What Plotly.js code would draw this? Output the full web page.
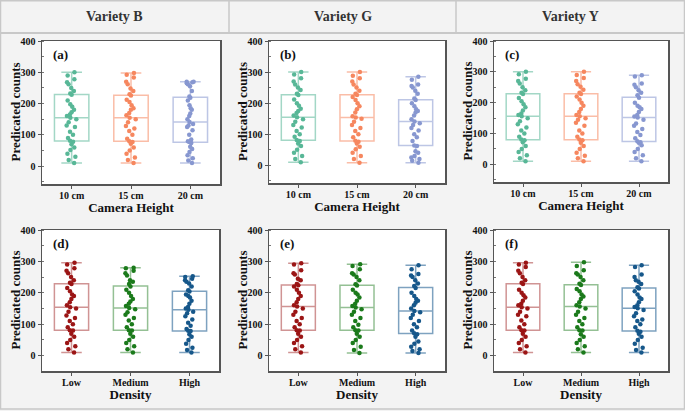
<!DOCTYPE html>
<html><head><meta charset="utf-8">
<script src="https://cdn.plot.ly/plotly-3.0.1.min.js"></script>
<style>html,body{margin:0;padding:0;background:#f3f3f3;}#chart{width:685px;height:411px;}</style>
</head><body><div id="chart"></div>
<script>
// ---------- data ----------
const varieties = ['Variety B', 'Variety G', 'Variety Y'];
const heightCats = ['10 cm', '15 cm', '20 cm'];
const densityCats = ['Low', 'Medium', 'High'];
const panelLabels = ['(a)', '(b)', '(c)', '(d)', '(e)', '(f)'];
const yTickVals = [0, 100, 200, 300, 400];
const yTitle = 'Predicated counts';

// Variety B, camera height
const b_h10 = [10,20,30,40,52,60,70,78,81,90,100,110,125,130,140,150,155,160,165,172,180,190,198,210,228,232,240,250,262,268,278,290,300];
const b_h15 = [10,20,28,40,50,60,72,77,80,88,100,112,120,128,140,150,155,163,170,180,185,195,205,212,226,230,240,248,262,270,283,292,298];
const b_h20 = [10,18,25,35,45,55,62,74,77,80,85,100,115,125,130,135,141,150,160,168,180,185,195,210,219,223,240,255,262,265,268,270,270];
// Variety G, camera height
const g_h10 = [10,20,30,40,50,62,70,78,81,92,100,110,122,130,140,148,155,160,168,175,182,192,200,212,226,230,242,250,260,270,280,292,300];
const g_h15 = [8,20,30,40,52,60,70,76,79,90,100,110,120,130,140,150,154,158,170,180,190,200,210,220,226,230,240,250,260,270,280,288,300];
const g_h20 = [8,15,20,25,30,40,45,62,64,78,90,100,112,120,130,135,141,148,160,170,175,180,190,200,210,215,230,240,250,255,260,275,285];
// Variety Y, camera height
const y_h10 = [10,20,30,40,50,60,72,78,81,90,100,110,120,130,140,150,156,160,165,175,185,195,205,215,228,232,240,250,262,270,278,292,300];
const y_h15 = [10,20,28,38,50,60,70,78,81,90,100,110,125,135,145,150,156,160,170,180,190,200,210,220,228,232,242,252,260,270,280,290,300];
const y_h20 = [10,20,30,40,50,62,70,72,75,85,95,105,115,125,133,145,152,155,160,170,180,185,190,200,216,224,232,240,250,258,262,285,289];
// Variety B, density
const b_low = [10,20,30,40,50,60,70,80,81,90,100,110,120,128,140,150,154,160,170,180,190,195,205,215,228,232,240,250,262,270,278,290,296];
const b_med = [10,20,30,40,50,60,70,80,81,90,100,112,120,130,138,148,152,158,165,172,180,190,200,210,220,228,235,240,255,262,270,278,280];
const b_high = [10,18,25,38,50,60,68,78,79,85,95,105,115,125,135,140,146,150,155,165,175,185,190,195,204,208,220,230,235,240,245,250,253];
// Variety G, density
const g_low = [10,20,30,40,50,60,70,80,81,90,100,110,120,130,140,150,156,160,170,180,190,200,210,220,224,228,240,245,258,262,272,290,294];
const g_med = [8,18,28,40,50,60,70,80,81,90,98,110,120,130,140,148,153,158,165,175,185,195,200,210,223,227,240,250,258,262,275,285,291];
const g_high = [8,15,20,28,38,45,60,68,71,80,90,100,110,120,130,138,142,150,160,168,175,180,190,200,215,222,230,240,250,255,260,275,288];
// Variety Y, density
const y_low = [10,20,30,40,50,60,70,80,81,90,100,112,125,130,140,150,154,160,165,175,185,192,200,210,228,232,240,250,262,270,282,290,296];
const y_med = [10,20,30,40,50,60,68,80,81,90,100,110,120,130,140,150,156,160,170,180,188,195,205,212,225,229,240,250,258,262,272,285,297];
const y_high = [10,18,25,38,50,60,70,76,79,90,100,110,115,125,135,145,151,155,160,170,180,185,195,205,214,218,228,235,240,250,258,282,288];

const panelData = [
  [b_h10, b_h15, b_h20], [g_h10, g_h15, g_h20], [y_h10, y_h15, y_h20],
  [b_low, b_med, b_high], [g_low, g_med, g_high], [y_low, y_med, y_high]
];

// ---------- styling ----------
const W = 685, H = 411;
const serif = 'Times New Roman, Liberation Serif, serif';
const heightPts = ['#58b797', '#f6875f', '#8797d0'];
const heightLines = ['rgba(88,183,151,0.55)', 'rgba(246,135,95,0.55)', 'rgba(135,151,208,0.55)'];
const densityPts = ['#9b1515', '#1b7a1b', '#16578a'];
const densityLines = ['rgba(170,60,60,0.55)', 'rgba(60,140,60,0.55)', 'rgba(40,100,150,0.6)'];
// plot area boxes in pixels [left, right, top, bottom]
const boxes = [[42,220,41,184],[269,445,41,183],[494,668,41,182],[42,219,230,371],[269,445,230,371],[494,668,230,371]];

const traces = [];
const layout = {
  width: W, height: H,
  margin: {l: 0, r: 0, t: 0, b: 0},
  paper_bgcolor: '#f3f3f3', plot_bgcolor: '#ffffff',
  showlegend: false,
  font: {family: serif, color: '#000'},
  shapes: [], annotations: []
};

for (let p = 0; p < 6; p++) {
  const top = p < 3;
  const cats = top ? heightCats : densityCats;
  const pts = top ? heightPts : densityPts;
  const lines = top ? heightLines : densityLines;
  const sx = p === 0 ? '' : String(p + 1);
  for (let c = 0; c < 3; c++) {
    traces.push({
      type: 'box', y: panelData[p][c], x0: cats[c], name: cats[c],
      xaxis: 'x' + sx, yaxis: 'y' + sx,
      boxpoints: 'all', jitter: 0.32, pointpos: 0,
      width: 0.58, whiskerwidth: 0.6,
      fillcolor: 'rgba(255,255,255,0)',
      line: {color: lines[c], width: 1.5},
      marker: {color: pts[c], size: 4.5, line: {width: 0}},
      hoverinfo: 'y'
    });
  }
  const [l, r, t, b] = boxes[p];
  layout['xaxis' + sx] = {
    domain: [l / W, r / W], anchor: 'y' + sx,
    type: 'category', categoryorder: 'array', categoryarray: cats,
    range: [-0.5, 2.5],
    showline: true, mirror: true, linecolor: '#555', linewidth: 1.5,
    ticks: 'outside', ticklen: 3, tickcolor: '#555', tickwidth: 1,
    ticklabelstandoff: -2,
    tickfont: {family: serif, size: 10, weight: 'bold', color: '#111'},
    showgrid: false, zeroline: false, automargin: false,
    title: {text: top ? 'Camera Height' : 'Density', standoff: 0,
            font: {family: serif, size: 13, weight: 'bold', color: '#111'}}
  };
  layout['yaxis' + sx] = {
    domain: [1 - b / H, 1 - t / H], anchor: 'x' + sx,
    range: top ? [-57, 400] : [-49, 400],
    tickvals: yTickVals,
    showline: true, mirror: true, linecolor: '#555', linewidth: 1.5,
    ticks: 'outside', ticklen: 3, tickcolor: '#555', tickwidth: 1,
    minor: {dtick: 50, ticks: 'inside', ticklen: 2, tickcolor: '#777', showgrid: false},
    tickfont: {family: serif, size: 10, weight: 'bold', color: '#111'},
    showgrid: false, zeroline: false, automargin: false
  };
  // y-axis title placed next to the tick labels
  layout.annotations.push({
    text: yTitle, xref: 'paper', yref: 'paper', textangle: -90,
    x: (l - 27) / W, y: 1 - ((t + b) / 2) / H, xanchor: 'center', yanchor: 'middle',
    showarrow: false, font: {family: serif, size: 13, weight: 'bold', color: '#111'}
  });
  layout.annotations.push({
    text: panelLabels[p], xref: 'paper', yref: 'paper',
    x: (l + 9) / W, y: 1 - (t + 13) / H, xanchor: 'left', yanchor: 'middle',
    showarrow: false, font: {family: serif, size: 13, weight: 'bold', color: '#111'}
  });
}

// header row
const headerLine = 'rgba(200,200,200,1)';
layout.shapes.push({type: 'rect', xref: 'paper', yref: 'paper', x0: 0.5 / W, x1: 684.5 / W, y0: 1 - 409 / H, y1: 1 - 0.8 / H, line: {color: headerLine, width: 1.5}, fillcolor: 'rgba(0,0,0,0)', layer: 'below'});
layout.shapes.push({type: 'line', xref: 'paper', yref: 'paper', x0: 0, x1: 1, y0: 1 - 33 / H, y1: 1 - 33 / H, line: {color: headerLine, width: 2}});
[229, 456].forEach(px => layout.shapes.push({type: 'line', xref: 'paper', yref: 'paper', x0: px / W, x1: px / W, y0: 1 - 33 / H, y1: 1, line: {color: headerLine, width: 1.5}}));
const headerCenters = [114.5, 342.5, 570.5];
varieties.forEach((v, i) => layout.annotations.push({
  text: v, xref: 'paper', yref: 'paper', x: headerCenters[i] / W, y: 1 - 17 / H,
  xanchor: 'center', yanchor: 'middle', showarrow: false,
  font: {family: serif, size: 14, weight: 'bold', color: '#333'}
}));

Plotly.newPlot('chart', traces, layout, {staticPlot: true, displayModeBar: false});
</script></body></html>
